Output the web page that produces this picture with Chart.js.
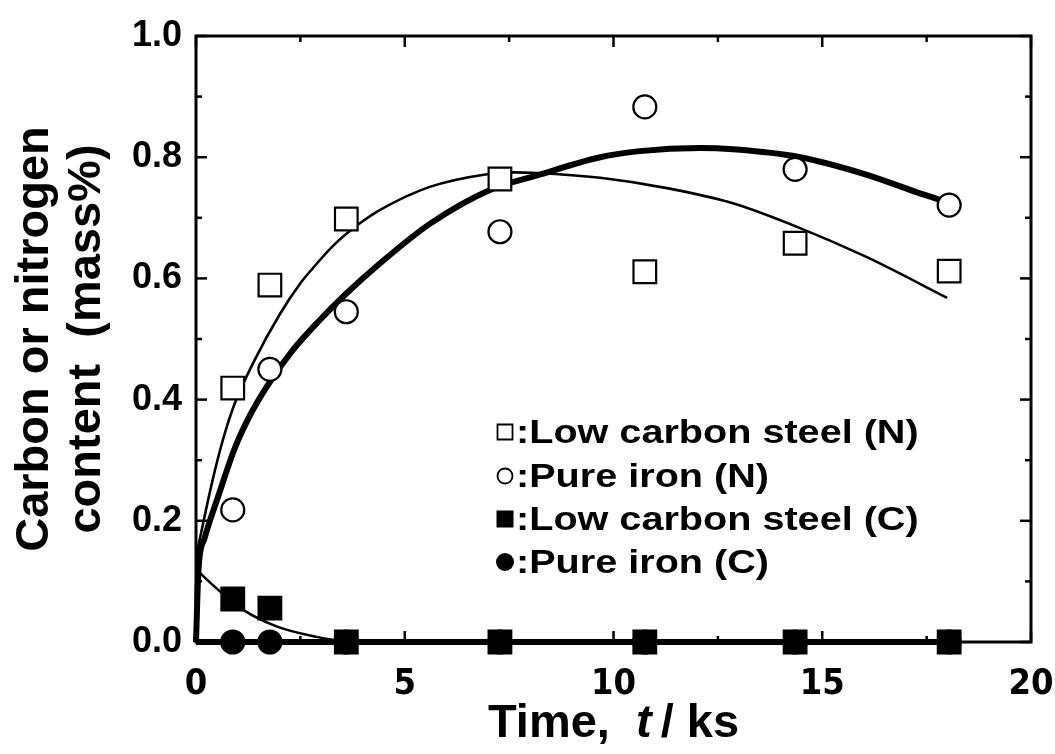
<!DOCTYPE html>
<html><head><meta charset="utf-8">
<script src="https://cdn.jsdelivr.net/npm/chart.js@4.4.1/dist/chart.umd.min.js"></script>
<style>html,body{margin:0;padding:0;background:#fff}canvas{display:block}</style>
</head><body>
<canvas id="c" width="1055" height="754"></canvas>
<script>
// ---- data ----
const TIMES = [0.88, 1.77, 3.6, 7.28, 10.75, 14.35, 18.04];
const LCS_N = [0.419, 0.589, 0.698, 0.764, 0.611, 0.658, 0.612];
const PI_N  = [0.218, 0.450, 0.545, 0.677, 0.883, 0.780, 0.721];
const LCS_C = [0.071, 0.056, 0, 0, 0, 0, 0];
const PI_C  = [0, 0, 0, 0, 0, 0, 0];

const FIT_LCS_N_T = [0, 0.38, 0.65, 0.93, 1.41, 2.0, 2.5, 2.8, 3.3, 3.87, 4.41, 5.6, 6.97, 7.6, 8.17, 9.68, 11.28, 12.86, 14.47, 16.07, 17.99];
const FIT_LCS_N   = [0.14, 0.262, 0.335, 0.394, 0.466, 0.54, 0.592, 0.617, 0.655, 0.688, 0.713, 0.751, 0.772, 0.775, 0.774, 0.766, 0.749, 0.724, 0.683, 0.635, 0.568];
const FIT_PI_N_T  = [0, 0.06, 0.2, 0.53, 0.93, 1.3, 1.72, 2.3, 2.92, 3.6, 4.41, 5.6, 7.04, 8.17, 9.68, 10.63, 12.07, 12.86, 14.47, 16.07, 17.27, 17.8];
const FIT_PI_N    = [0, 0.12, 0.17, 0.24, 0.32, 0.375, 0.424, 0.48, 0.528, 0.575, 0.625, 0.69, 0.746, 0.77, 0.80, 0.81, 0.815, 0.813, 0.80, 0.771, 0.742, 0.73];
const FIT_LCS_C_T = [0, 0.5, 1.13, 1.96, 2.92, 3.6];
const FIT_LCS_C   = [0.12, 0.088, 0.053, 0.025, 0.008, 0];
const FIT_PI_C_T  = [0, 18];
const FIT_PI_C    = [0, 0];

const X_TICKS = [0, 5, 10, 15, 20];
const X_MINOR = [2.5, 7.5, 12.5, 17.5];
const Y_TICKS = [0, 0.2, 0.4, 0.6, 0.8, 1.0];
const Y_MINOR = [0.1, 0.3, 0.5, 0.7, 0.9];
const Y_TICK_LABELS = ['0.0', '0.2', '0.4', '0.6', '0.8', '1.0'];
const LEGEND_LABELS = [':Low carbon steel (N)', ':Pure iron (N)', ':Low carbon steel (C)', ':Pure iron (C)'];
const Y_TITLE = ['Carbon or nitrogen', 'content  (mass%)'];
const X_TITLE = ['Time,  ', 't', '/ ks'];

const pts = (xs, ys) => xs.map((x, i) => ({x, y: ys[i]}));
const SANS = '"Liberation Sans", Arial, Helvetica, sans-serif';

const curve = (xs, ys, w) => ({
  data: pts(xs, ys), showLine: true, pointRadius: 0, borderColor: '#000',
  borderWidth: w, cubicInterpolationMode: 'monotone', order: 2, clip: false
});
const marks = (ys, style, filled, r) => ({
  data: pts(TIMES, ys), showLine: false, pointStyle: style, pointRadius: r,
  pointHoverRadius: r, pointBorderWidth: 2.2, borderColor: '#000',
  pointBackgroundColor: filled ? '#000' : '#fff', backgroundColor: filled ? '#000' : '#fff',
  order: 1, clip: false
});

const deco = {
  id: 'deco',
  beforeDatasetsDraw(chart) {
    const {ctx, chartArea: a, scales: {x, y}} = chart;
    ctx.save();
    ctx.strokeStyle = '#000';
    ctx.lineWidth = 3;
    ctx.strokeRect(a.left, a.top, a.right - a.left, a.bottom - a.top);
    ctx.lineWidth = 2.5;
    const tick = (x1, y1, x2, y2) => { ctx.beginPath(); ctx.moveTo(x1, y1); ctx.lineTo(x2, y2); ctx.stroke(); };
    X_TICKS.forEach(v => { const p = x.getPixelForValue(v); tick(p, a.bottom, p, a.bottom - 11); tick(p, a.top, p, a.top + 11); });
    X_MINOR.forEach(v => { const p = x.getPixelForValue(v); tick(p, a.bottom, p, a.bottom - 6); tick(p, a.top, p, a.top + 6); });
    Y_TICKS.forEach(v => { const p = y.getPixelForValue(v); tick(a.left, p, a.left + 11, p); tick(a.right, p, a.right - 11, p); });
    Y_MINOR.forEach(v => { const p = y.getPixelForValue(v); tick(a.left, p, a.left + 6, p); tick(a.right, p, a.right - 6, p); });
    ctx.restore();
  },
  afterDraw(chart) {
    const {ctx, chartArea: a} = chart;
    ctx.save();
    ctx.fillStyle = '#000';
    ctx.strokeStyle = '#000';
    // x title with italic t
    const fN = 'bold 47px ' + SANS, fI = 'italic bold 47px ' + SANS;
    ctx.font = fN; const w0 = ctx.measureText(X_TITLE[0]).width;
    ctx.font = fI; const w1 = ctx.measureText(X_TITLE[1]).width;
    ctx.font = fN; const w2 = ctx.measureText(X_TITLE[2]).width;
    const gap = 9;
    let sx = (a.left + a.right) / 2 - (w0 + w1 + gap + w2) / 2;
    const by = 737;
    ctx.textBaseline = 'alphabetic'; ctx.textAlign = 'left';
    ctx.font = fN; ctx.fillText(X_TITLE[0], sx, by);
    ctx.font = fI; ctx.fillText(X_TITLE[1], sx + w0, by);
    ctx.font = fN; ctx.fillText(X_TITLE[2], sx + w0 + w1 + gap, by);
    // legend
    const rows = [432, 476, 519, 562];
    const cx = 505;
    ctx.lineWidth = 1.8;
    ctx.textBaseline = 'middle';
    LEGEND_LABELS.forEach((t, i) => {
      const cy = rows[i];
      ctx.beginPath();
      if (i === 0) { ctx.rect(cx - 7.5, cy - 7.5, 15, 15); ctx.stroke(); }
      if (i === 1) { ctx.arc(cx, cy, 7.5, 0, Math.PI * 2); ctx.stroke(); }
      if (i === 2) { ctx.rect(cx - 8.5, cy - 8.5, 17, 17); ctx.fill(); }
      if (i === 3) { ctx.arc(cx, cy, 9, 0, Math.PI * 2); ctx.fill(); }
      ctx.save();
      ctx.translate(516, cy + 2);
      ctx.scale(1.2, 1);
      ctx.font = 'bold 33px ' + SANS;
      ctx.fillText(t, 0, 0);
      ctx.restore();
    });
    ctx.restore();
  }
};

new Chart(document.getElementById('c'), {
  type: 'scatter',
  data: {
    datasets: [
      curve(FIT_PI_C_T, FIT_PI_C, 6),
      curve(FIT_LCS_C_T, FIT_LCS_C, 2.5),
      curve(FIT_LCS_N_T, FIT_LCS_N, 2.6),
      curve(FIT_PI_N_T, FIT_PI_N, 6),
      marks(PI_C, 'circle', true, 11.5),
      marks(LCS_C, 'rect', true, 16),
      marks(LCS_N, 'rect', false, 16),
      marks(PI_N, 'circle', false, 11.5)
    ]
  },
  options: {
    responsive: false, animation: false, devicePixelRatio: 1,
    layout: {padding: {top: 36, right: 24, left: 0, bottom: 0}},
    plugins: {legend: {display: false}, tooltip: {enabled: false}},
    scales: {
      x: {
        type: 'linear', min: 0, max: 20,
        grid: {display: false, drawTicks: false}, border: {display: false},
        afterBuildTicks: s => { s.ticks = X_TICKS.map(v => ({value: v})); },
        ticks: {padding: 21, color: '#000', maxRotation: 0, autoSkip: false,
          font: {family: '"Liberation Sans Narrow", "DejaVu Sans Condensed", "Arial Narrow", ' + SANS, weight: 'bold', size: 36}},
        afterFit: s => { s.height = 112; s.paddingLeft = 0; s.paddingRight = 0; }
      },
      y: {
        type: 'linear', min: 0, max: 1,
        grid: {display: false, drawTicks: false}, border: {display: false},
        afterBuildTicks: s => { s.ticks = Y_TICKS.map(v => ({value: v})); },
        ticks: {padding: 14, color: '#000',
          callback: (v) => Y_TICK_LABELS[Y_TICKS.findIndex(t => Math.abs(t - v) < 1e-9)],
          font: {family: SANS, weight: 'bold', size: 36}},
        title: {display: true, text: Y_TITLE, color: '#000', padding: {top: 9, bottom: 0},
          font: {family: SANS, weight: 'bold', size: 47, lineHeight: 1.1}},
        afterFit: s => { s.width = 196; s.paddingTop = 0; s.paddingBottom = 0; }
      }
    }
  },
  plugins: [deco]
});
</script>
</body></html>
